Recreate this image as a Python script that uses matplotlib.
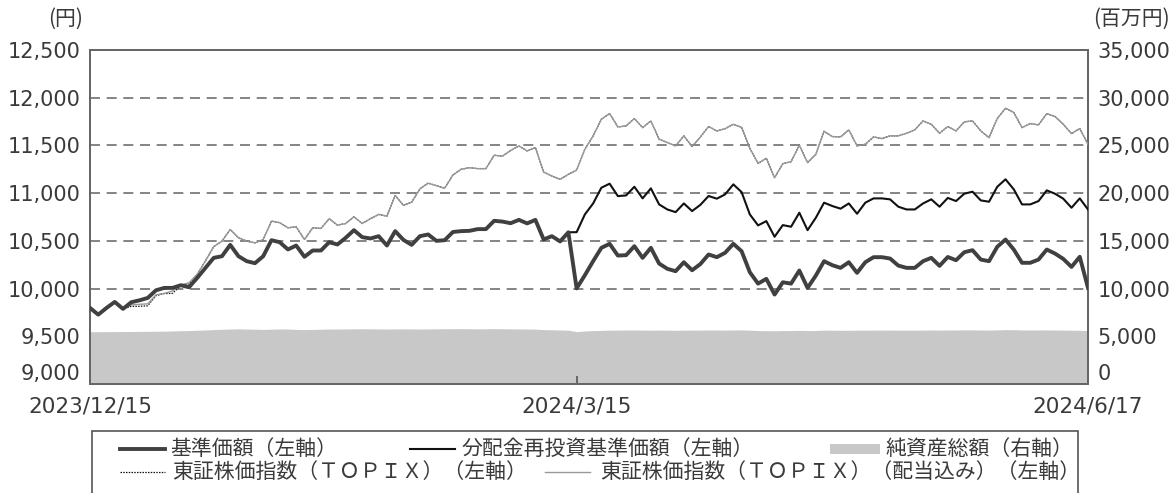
import matplotlib
matplotlib.use("Agg")
import matplotlib.pyplot as plt
from matplotlib.lines import Line2D
from matplotlib.patches import Rectangle
import numpy as np

plt.rcParams['font.family'] = ['Noto Sans CJK JP', 'DejaVu Sans']

# business-day index: 0 = 2023/12/15, 59 = 2024/3/15, 121 = 2024/6/17
tick_pos = [0, 59, 121]
tick_labels = ['2023/12/15', '2024/3/15', '2024/6/17']

# 基準価額
base = [9797, 9727, 9797, 9860, 9787, 9857, 9877, 9902, 9982, 10007,
        10007, 10035, 10014, 10112, 10217, 10322, 10339, 10458, 10339, 10287,
        10266, 10339, 10507, 10486, 10410, 10451, 10333, 10399, 10399, 10486,
        10462, 10532, 10612, 10539, 10525, 10549, 10451, 10602, 10510, 10458,
        10549, 10567, 10500, 10507, 10593, 10602, 10605, 10623, 10623, 10710,
        10702, 10685, 10720, 10683, 10720, 10515, 10549, 10494, 10590, 10002,
        10140, 10287, 10427, 10469, 10346, 10350, 10444, 10322, 10427, 10262,
        10207, 10182, 10276, 10192, 10257, 10357, 10329, 10375, 10469, 10392,
        10171, 10052, 10102, 9937, 10066, 10052, 10189, 10007, 10136, 10287,
        10245, 10217, 10276, 10165, 10276, 10329, 10329, 10315, 10241, 10217,
        10217, 10287, 10322, 10238, 10331, 10297, 10381, 10402, 10304, 10287,
        10438, 10514, 10409, 10270, 10270, 10304, 10409, 10367, 10311, 10227,
        10333, 10007]

# 分配金再投資基準価額 (same as base until 2024/3/15)
reinvest_after = [10591,
                  10777, 10892, 11057, 11099, 10969, 10976, 11067, 10945, 11050, 10882,
                  10829, 10801, 10892, 10812, 10877, 10970, 10942, 10987, 11092, 11011,
                  10777, 10662, 10707, 10543, 10665, 10648, 10795, 10612, 10742, 10900,
                  10865, 10837, 10892, 10784, 10900, 10945, 10945, 10935, 10858, 10829,
                  10829, 10892, 10935, 10858, 10950, 10917, 10994, 11015, 10924, 10910,
                  11067, 11145, 11040, 10882, 10882, 10917, 11029, 10994, 10942, 10847,
                  10945, 10829]
reinvest = base[:59] + reinvest_after

# 東証株価指数（配当込み）
topix_div = [9797, 9727, 9797, 9860, 9787, 9830, 9835, 9840, 9935, 9950,
             9975, 10040, 10060, 10150, 10290, 10440, 10497, 10619, 10532, 10497,
             10479, 10514, 10707, 10690, 10637, 10647, 10514, 10637, 10630, 10732,
             10665, 10682, 10752, 10682, 10732, 10777, 10759, 10976, 10872, 10905,
             11045, 11105, 11078, 11052, 11190, 11250, 11267, 11257, 11257, 11397,
             11388, 11447, 11495, 11442, 11477, 11220, 11180, 11145, 11197, 11242,
             11460, 11600, 11775, 11834, 11694, 11704, 11782, 11687, 11757, 11565,
             11530, 11495, 11600, 11488, 11588, 11698, 11652, 11675, 11722, 11690,
             11470, 11312, 11365, 11162, 11309, 11330, 11502, 11320, 11407, 11648,
             11593, 11589, 11663, 11495, 11512, 11589, 11572, 11600, 11600, 11628,
             11663, 11757, 11722, 11628, 11698, 11652, 11747, 11757, 11652, 11582,
             11782, 11890, 11845, 11687, 11729, 11715, 11834, 11803, 11722, 11624,
             11677, 11512]

# 東証株価指数 (visible only at the start, hidden under the dividend line later)
topix_start = [9797, 9727, 9797, 9860, 9787, 9814, 9814, 9820, 9926, 9947,
               9950, 10031, 10050]
topix = topix_start + topix_div[13:]

# 純資産総額 (百万円)
nav = [5480, 5480, 5490, 5490, 5500, 5500, 5510, 5520, 5530, 5540,
       5560, 5580, 5600, 5630, 5660, 5700, 5730, 5760, 5780, 5760,
       5740, 5720, 5740, 5770, 5760, 5720, 5700, 5720, 5740, 5760,
       5760, 5770, 5780, 5790, 5780, 5770, 5760, 5770, 5780, 5770,
       5760, 5770, 5780, 5790, 5790, 5800, 5790, 5780, 5790, 5800,
       5790, 5780, 5770, 5760, 5750, 5700, 5680, 5660, 5640, 5480,
       5560, 5600, 5620, 5640, 5650, 5660, 5660, 5650, 5640, 5650,
       5640, 5630, 5640, 5650, 5650, 5660, 5660, 5650, 5660, 5670,
       5640, 5600, 5590, 5580, 5600, 5600, 5620, 5600, 5610, 5640,
       5640, 5630, 5630, 5640, 5640, 5650, 5650, 5650, 5640, 5640,
       5640, 5650, 5660, 5650, 5660, 5660, 5670, 5670, 5660, 5650,
       5670, 5700, 5690, 5660, 5660, 5660, 5670, 5660, 5650, 5640,
       5630, 5600]

W, H = 1173, 493
x = np.arange(len(base))

fig = plt.figure(figsize=(W / 100, H / 100), dpi=100)
ax = fig.add_axes([90 / W, 1 - 384 / H, 998 / W, 334 / H])
ax2 = ax.twinx()

txt = '#3a3a3a'
frame = '#666666'
num_font = 'DejaVu Sans'

ax2.fill_between(x, 0, nav, color='#c8c8c8', lw=0)
ax2.set_ylim(0, 35000)
ax2.set_yticks(range(0, 35001, 5000))
ax2.set_yticklabels([f'{v:,}' for v in range(0, 35001, 5000)], family=num_font)

ax.set_zorder(ax2.get_zorder() + 1)
ax.patch.set_visible(False)

for v in range(10000, 12001, 500):
    ax.axhline(v, color='#707070', lw=1.2, ls=(0, (6, 4)), zorder=1)

ax.plot(x, topix, color='#111111', lw=0.9, ls=(0, (1.2, 1.0)), zorder=3)
ax.plot(x, topix_div, color='#999999', lw=1.0, zorder=4)
ax.plot(x, reinvest, color='#111111', lw=1.5, zorder=5)
ax.plot(x, base, color='#404040', lw=2.8, zorder=6)

ax.set_xlim(0, 121)
ax.set_ylim(9000, 12500)
ax.set_yticks(range(9000, 12501, 500))
ax.set_yticklabels([f'{v:,}' for v in range(9000, 12501, 500)], family=num_font)
ax.set_xticks(tick_pos)
ax.set_xticklabels(tick_labels, family=num_font)

ax.tick_params(axis='y', length=0, pad=7, labelsize=15, labelcolor=txt)
ax.tick_params(axis='x', direction='in', length=6, width=1.4, color=frame,
               pad=9, labelsize=15.5, labelcolor=txt)
ax2.tick_params(axis='y', length=0, pad=7, labelsize=15, labelcolor=txt)

# lowest labels sit just above the bottom line
ax.get_yticklabels()[0].set_va('bottom')
ax2.get_yticklabels()[0].set_va('bottom')

for a in (ax, ax2):
    for s in a.spines.values():
        s.set_color(frame)
        s.set_linewidth(1.4)

fig.text(66 / W, 1 - 19 / H, '(円)', ha='center', va='center', fontsize=15, color=txt)
fig.text(1131 / W, 1 - 19 / H, '(百万円)', ha='center', va='center', fontsize=15, color=txt)

# legend box (bottom runs off the figure)
fig.add_artist(Rectangle((92 / W, 1 - 520 / H), 986 / W, 89 / H, transform=fig.transFigure,
                         fill=False, ec='#555555', lw=1.2))


def fx(px):
    return px / W


def fy(py):
    return 1 - py / H


def leg_line(x0, x1, yy, **kw):
    fig.add_artist(Line2D([fx(x0), fx(x1)], [fy(yy), fy(yy)], transform=fig.transFigure, **kw))


def leg_text(x0, yy, s):
    fig.text(fx(x0), fy(yy), s, ha='left', va='center', fontsize=15, color=txt)


r1, r2 = 449, 472
leg_line(120, 165, r1, color='#404040', lw=2.8)
leg_text(170, r1, '基準価額（左軸）')
leg_line(410, 455, r1, color='#111111', lw=1.5)
leg_text(462, r1, '分配金再投資基準価額（左軸）')
fig.add_artist(Rectangle((fx(830), fy(r1 + 5)), (880 - 830) / W, 10 / H,
                         transform=fig.transFigure, color='#c8c8c8', lw=0))
leg_text(885, r1, '純資産総額（右軸）')
leg_line(120, 165, r2, color='#111111', lw=0.9, ls=(0, (1.2, 1.0)))
leg_text(172, r2, '東証株価指数（ＴＯＰＩＸ）（左軸）')
leg_line(545, 590, r2, color='#999999', lw=1.0)
leg_text(600, r2, '東証株価指数（ＴＯＰＩＸ）（配当込み）（左軸）')

fig.savefig('out.png', dpi=100)
